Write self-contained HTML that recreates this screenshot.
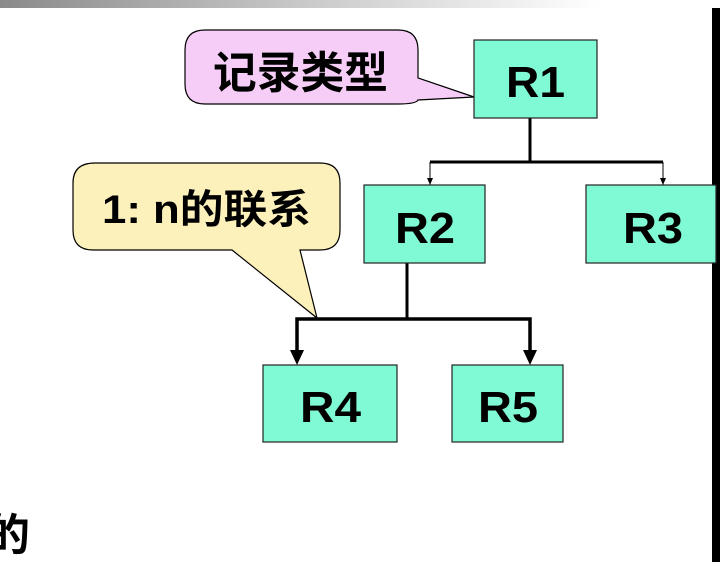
<!DOCTYPE html>
<html><head><meta charset="utf-8"><style>
body{margin:0;width:720px;height:562px;overflow:hidden;background:#fff;position:relative;font-family:"Liberation Sans","Noto Sans CJK SC",sans-serif;}
text{font-family:"Liberation Sans","Noto Sans CJK SC",sans-serif;font-weight:bold;}
</style></head><body>
<div style="position:absolute;left:0;top:0;width:600px;height:8px;background:linear-gradient(to right,#8a8a8a,#c8c8c8 50%,#fff)"></div>
<div style="position:absolute;left:712px;top:8px;width:8px;height:554px;background:#000"></div>
<svg width="720" height="562" style="position:absolute;left:0;top:0">
<path d="M205,30 H398 Q418,30 418,50 V78 L474,97 L418,100 Q416,104 398,104 H205 Q185,104 185,84 V50 Q185,30 205,30 Z" fill="#f6cdf6" stroke="#000" stroke-width="1.2"/>
<text x="213" y="88" font-size="44" textLength="175" lengthAdjust="spacingAndGlyphs">记录类型</text>
<path d="M95,163 H320 Q340,163 340,183 V230 Q340,250 320,250 H300 L317,318 L232,250 H93 Q73,250 73,230 V183 Q73,163 95,163 Z" fill="#fcf0bb" stroke="#000" stroke-width="1.2"/>
<text x="102" y="223" font-size="40" textLength="209" lengthAdjust="spacingAndGlyphs">1: n的联系</text>
<line x1="530" y1="118" x2="530" y2="162" stroke="#000" stroke-width="3"/>
<line x1="430" y1="162" x2="663" y2="162" stroke="#000" stroke-width="3"/>
<line x1="430" y1="162" x2="430" y2="185" stroke="#000" stroke-width="1"/>
<path d="M427,178 L433,178 L430,185 Z"/>
<line x1="663" y1="162" x2="663" y2="185" stroke="#000" stroke-width="1"/>
<path d="M660,178 L666,178 L663,185 Z"/>
<line x1="407" y1="263" x2="407" y2="319" stroke="#000" stroke-width="3"/>
<path d="M297,352 V319 H530 V352" fill="none" stroke="#000" stroke-width="3.5"/>
<path d="M290,350 L304,350 L297,365 Z"/>
<path d="M523,350 L537,350 L530,365 Z"/>
<g fill="#80fad4" stroke="#222" stroke-width="1.2">
<rect x="474" y="40" width="123" height="78"/>
<rect x="364" y="185" width="121" height="78"/>
<rect x="586" y="185" width="130" height="78"/>
<rect x="263" y="365" width="134" height="77"/>
<rect x="452" y="365" width="111" height="77"/>
</g>
<g font-size="44" lengthAdjust="spacingAndGlyphs">
<text x="506" y="97" textLength="59" lengthAdjust="spacingAndGlyphs">R1</text>
<text x="395" y="243" textLength="60" lengthAdjust="spacingAndGlyphs">R2</text>
<text x="623" y="243" textLength="60" lengthAdjust="spacingAndGlyphs">R3</text>
<text x="300" y="422" textLength="61" lengthAdjust="spacingAndGlyphs">R4</text>
<text x="478" y="422" textLength="60" lengthAdjust="spacingAndGlyphs">R5</text>
</g>
<text x="-14" y="550" font-size="44">的</text>
</svg>
</body></html>
